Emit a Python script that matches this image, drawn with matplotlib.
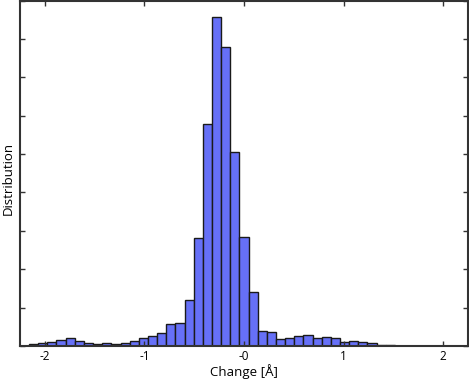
import numpy as np
import matplotlib.pyplot as plt

# histogram of change values (40 equal bins)
bin_lo = -2.159
bin_hi = 1.516
counts = [5, 8, 11, 16, 21, 13, 9, 6, 9, 5,
          8, 14, 21, 27, 33, 57, 60, 121, 281, 579,
          857, 779, 506, 285, 141, 40, 36, 18, 21, 25,
          29, 22, 23, 21, 11, 13, 10, 7, 3, 2]
xticks = [-2, -1, 0, 1, 2]
xtick_labels = ['-2', '-1', '-0', '1', '2']

plt.rcParams['font.family'] = ['Open Sans', 'DejaVu Sans']

edges = np.linspace(bin_lo, bin_hi, len(counts) + 1)
width = edges[1] - edges[0]

fig = plt.figure(figsize=(4.69, 3.79), dpi=100)
ax = fig.add_axes([20 / 469, 33 / 379, 448 / 469, 345.5 / 379])

ax.bar(edges[:-1], counts, width=width, align='edge',
       color='#6670f7', edgecolor='#1a1a1a', linewidth=1.0)

ax.set_xlim(-2.25, 2.25)
ax.set_ylim(0, 900)
ax.set_xticks(xticks)
ax.set_xticklabels(xtick_labels, fontsize=8.5)
ax.set_yticks(np.arange(0, 901, 100))
ax.set_yticklabels([])
ax.tick_params(direction='in', length=3.5, width=1, top=True, right=True,
               colors='#333333', labelcolor='black', pad=3)
for s in ax.spines.values():
    s.set_linewidth(1.5)
    s.set_color('#333333')

ax.set_xlabel('Change [Å]', fontsize=9.5, labelpad=1)
# y label sits right at the left edge of the figure
fig.text(8.5 / 469, 1 - 178 / 379, 'Distribution', fontsize=9.5,
         rotation=90, ha='center', va='center')

fig.savefig('out.png', dpi=100)
